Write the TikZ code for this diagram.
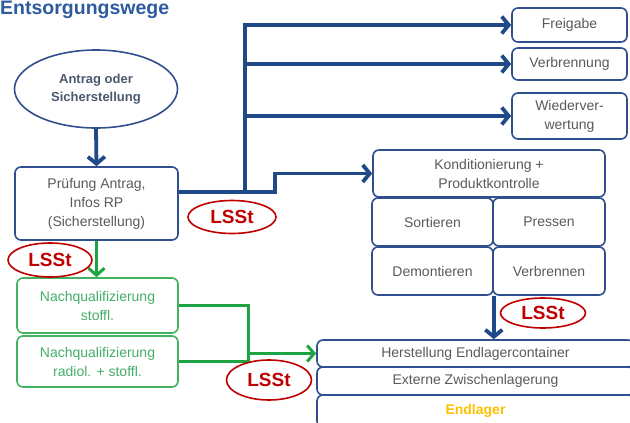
\documentclass[tikz,border=0pt]{standalone}
\usepackage{fontspec}
\setmainfont{Liberation Sans}
\usetikzlibrary{shapes.geometric,arrows.meta}

\definecolor{lineblue}{HTML}{1F4A87}
\definecolor{boxblue}{HTML}{2F4F8F}
\definecolor{titleblue}{HTML}{2E5A9E}
\definecolor{txtgrey}{HTML}{5A5A5A}
\definecolor{ellgrey}{HTML}{4A5870}
\definecolor{lssred}{HTML}{C00000}
\definecolor{nqgreen}{HTML}{1FA443}
\definecolor{nqtext}{HTML}{45AE68}
\definecolor{endgold}{HTML}{FFC000}

\tikzset{
  box/.style={draw=boxblue, line width=1.6pt, rounded corners=6pt, fill=white,
    text=txtgrey, align=center, inner sep=0pt, font=\fontsize{14}{19}\selectfont},
  zielbox/.style={box, minimum width=115pt},
  greenbox/.style={box, draw=nqgreen!85, text=nqtext, minimum width=161pt},
  lsst/.style={ellipse, draw=lssred, line width=1.6pt, fill=white, inner sep=0pt,
    text=lssred, font=\fontsize{19}{20}\selectfont\bfseries},
  bline/.style={draw=lineblue, line width=3.8pt},
  flow/.style={bline, -{Straight Barb[length=7pt,width=17pt]}},
  gline/.style={draw=nqgreen, line width=3pt},
  gflow/.style={gline, -{Straight Barb[length=7pt,width=16pt]}},
}

\begin{document}
\begin{tikzpicture}[x=1pt, y=-1pt]
        \path[use as bounding box] (0,0) rectangle (630,423);

        \node[anchor=base west, inner sep=0pt, text=titleblue,
          font=\fontsize{19.5}{20}\selectfont\bfseries] (Titel) at (0,15) {Entsorgungswege};

        \node[ellipse, draw=boxblue, line width=1.6pt, minimum width=163pt, minimum height=78pt,
          inner sep=0pt, align=center, text=ellgrey, font=\fontsize{13}{18}\selectfont\bfseries]
          (Antrag) at (96,89) {Antrag oder\\Sicherstellung};
        \node[box, minimum width=163pt, minimum height=73pt] (Pruef) at (96.5,203.5)
          {Prüfung Antrag,\\Infos RP\\(Sicherstellung)};

        \node[zielbox, minimum height=34pt] (Frei) at (569.5,25) {Freigabe};
        \node[zielbox, minimum height=32pt] (Verb) at (569.5,64) {Verbrennung};
        \node[zielbox, minimum height=46pt] (Wied) at (569.5,116) {Wiederver-\\wertung};

        \node[box, minimum width=232pt, minimum height=47pt] (Kond) at (489,173.5)
          {Konditionierung +\\Produktkontrolle};
        \node[box, minimum width=121pt, minimum height=48pt] (Sort) at (432.5,222) {Sortieren};
        \node[box, minimum width=112pt, minimum height=48pt] (Press) at (549,222) {Pressen};
        \node[box, minimum width=121pt, minimum height=48pt] (Demon) at (432.5,271) {Demontieren};
        \node[box, minimum width=112pt, minimum height=48pt] (Verbr) at (549,271) {Verbrennen};

        \node[box, minimum width=317pt, minimum height=27pt] (Herst) at (475.5,353.5)
          {Herstellung Endlagercontainer};
        \node[box, minimum width=317pt, minimum height=28pt] (Extern) at (475.5,381)
          {Externe Zwischenlagerung};
        \node[box, minimum width=317pt, minimum height=32pt, text=endgold,
          font=\fontsize{14}{19}\selectfont\bfseries] (Endl) at (475.5,411) {Endlager};

        \node[greenbox, minimum height=55pt] (Nq1) at (97.5,305.5) {Nachqualifizierung\\stoffl.};
        \node[greenbox, minimum height=51pt] (Nq2) at (97.5,361.5)
          {Nachqualifizierung\\radiol. + stoffl.};

        \coordinate (Knoten) at (245,192);
        \coordinate (Knick) at (275,192);
        \coordinate (Sammel) at (248,361.5);

        \draw[flow] (Antrag.south) -- (Pruef.north);
        \draw[flow] (Knoten) |- (Frei.west);
        \draw[flow] (Knoten) |- (Verb.west);
        \draw[flow] (Knoten) |- (Wied.west);
        \draw[flow] (Pruef.east |- Knoten) -- (Knick) |- (Kond.west);
        \draw[flow] (Demon.south east) -- (Demon.south east |- Herst.north);

        \draw[gflow] (Pruef.south) -- (Pruef.south |- Nq1.north);
        \draw[gline] (Nq1.east) -| (Sammel) -- (Nq2.east);
        \draw[gflow] (Sammel |- Herst.west) -- (Herst.west);

        \node[lsst, minimum width=84pt, minimum height=34pt] (L1) at (50,260) {LSSt};
        \node[lsst, minimum width=88pt, minimum height=33pt] (L2) at (232,217) {LSSt};
        \node[lsst, minimum width=85pt, minimum height=40pt] (L3) at (269,380) {LSSt};
        \node[lsst, minimum width=85pt, minimum height=30pt] (L4) at (543,313) {LSSt};
      \end{tikzpicture}
\end{document}
